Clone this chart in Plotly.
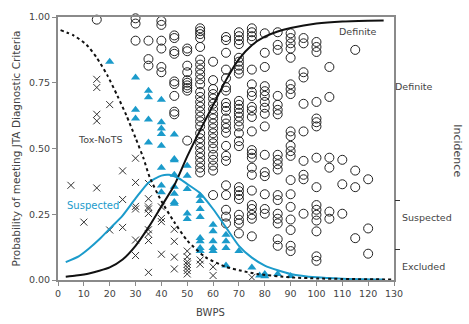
import plotly.graph_objects as go

# ---- data (BWPS score -> probability values) ----
definite_cols = {
    15: [0.99],
    30: [0.995, 0.975, 0.91],
    35: [0.91, 0.84, 0.815],
    40: [0.985, 0.97, 0.91, 0.88, 0.81, 0.79],
    45: [0.93, 0.92, 0.87, 0.86, 0.755, 0.745, 0.70, 0.64, 0.63],
    50: [0.88, 0.87, 0.815, 0.79, 0.76, 0.75, 0.74, 0.73, 0.72, 0.53],
    55: [0.957, 0.946, 0.935, 0.92, 0.886, 0.838, 0.819, 0.80, 0.782, 0.763, 0.744, 0.715,
         0.696, 0.677, 0.659, 0.64, 0.621, 0.603, 0.584, 0.558, 0.539, 0.521, 0.502, 0.483,
         0.465, 0.446, 0.427, 0.409],
    60: [0.83, 0.76, 0.726, 0.707, 0.69, 0.67, 0.65, 0.63, 0.614, 0.595, 0.577, 0.558, 0.539,
         0.52, 0.50, 0.476, 0.457, 0.435, 0.416, 0.323],
    65: [0.924, 0.912, 0.864, 0.80, 0.767, 0.733, 0.72, 0.673, 0.658, 0.643, 0.614, 0.595,
         0.578, 0.56, 0.51, 0.472, 0.453, 0.36, 0.323, 0.267, 0.241, 0.215],
    70: [0.942, 0.927, 0.912, 0.897, 0.845, 0.830, 0.815, 0.800, 0.785, 0.681, 0.666, 0.651,
         0.636, 0.621, 0.603, 0.584, 0.558, 0.528, 0.509, 0.353, 0.338, 0.323, 0.308, 0.248,
         0.229, 0.215, 0.177],
    75: [0.957, 0.942, 0.927, 0.912, 0.80, 0.744, 0.715, 0.70, 0.658, 0.644, 0.62, 0.565,
         0.494, 0.48, 0.465, 0.427, 0.40, 0.34, 0.285, 0.27, 0.248, 0.233, 0.166],
    80: [0.938, 0.864, 0.81, 0.737, 0.718, 0.70, 0.677, 0.655, 0.632, 0.584, 0.476, 0.41,
         0.395, 0.326, 0.27, 0.252],
    85: [0.942, 0.894, 0.875, 0.70, 0.666, 0.647, 0.63, 0.476, 0.457, 0.44, 0.42, 0.323,
         0.304, 0.252, 0.233, 0.215, 0.155, 0.13],
    90: [0.938, 0.92, 0.90, 0.88, 0.845, 0.744, 0.726, 0.707, 0.565, 0.547, 0.51, 0.49,
         0.472, 0.38, 0.326, 0.278, 0.23, 0.19, 0.13, 0.11],
    95: [0.92, 0.90, 0.79, 0.77, 0.67, 0.565, 0.453, 0.40, 0.383, 0.252],
    100: [0.905, 0.886, 0.867, 0.677, 0.614, 0.60, 0.584, 0.465, 0.353, 0.285, 0.267, 0.248,
          0.226, 0.185, 0.09, 0.073],
    105: [0.81, 0.696, 0.465, 0.427, 0.26, 0.233],
    110: [0.457, 0.364, 0.252],
    115: [0.875, 0.416, 0.353, 0.159],
    120: [0.383, 0.196, 0.10],
}

suspected_cols = {
    20: [0.83],
    30: [0.77, 0.647, 0.614],
    35: [0.72, 0.695, 0.61, 0.523],
    40: [0.685, 0.60, 0.576, 0.555, 0.51, 0.427, 0.359, 0.334],
    45: [0.553, 0.46, 0.455, 0.40, 0.355, 0.328, 0.297, 0.29],
    50: [0.434, 0.396, 0.346, 0.253, 0.232],
    55: [0.32, 0.30, 0.27, 0.24, 0.16, 0.147, 0.122, 0.11],
    60: [0.21, 0.185, 0.147, 0.122, 0.11],
    65: [0.172, 0.147, 0.122, 0.055],
    70: [0.11],
    75: [0.048],
    78: [0.017],
    80: [0.023, 0.014],
    85: [0.023],
    90: [0.015],
}

excluded_cols = {
    5: [0.36],
    10: [0.22],
    15: [0.763, 0.732, 0.63, 0.605, 0.35],
    20: [0.667, 0.19],
    25: [0.415, 0.306, 0.20],
    30: [0.463, 0.371, 0.28, 0.27, 0.152, 0.093],
    35: [0.367, 0.309, 0.278, 0.27, 0.253, 0.191, 0.175, 0.15, 0.029],
    40: [0.278, 0.234, 0.222, 0.098],
    45: [0.193, 0.147, 0.087, 0.042],
    50: [0.11, 0.088, 0.07, 0.06, 0.048, 0.036, 0.023],
    55: [0.076, 0.06],
    60: [0.05, 0.017],
    75: [0.01],
}

definite_curve_x = [3, 7, 12, 16, 20, 25, 30, 35, 40, 45, 50, 55, 60, 65, 70, 75, 80, 85, 90,
                    100, 110, 120, 126]
definite_curve_y = [0.012, 0.017, 0.025, 0.035, 0.048, 0.078, 0.13, 0.20, 0.28, 0.36, 0.47,
                    0.57, 0.665, 0.76, 0.84, 0.893, 0.925, 0.945, 0.958, 0.975, 0.983, 0.986,
                    0.987]

suspected_curve_x = [3, 8, 12, 16, 20, 25, 30, 35, 40, 43, 47, 50, 55, 60, 65, 70, 75, 80, 85,
                     90, 100, 110, 126]
suspected_curve_y = [0.068, 0.09, 0.12, 0.155, 0.195, 0.245, 0.31, 0.37, 0.397, 0.40, 0.385,
                     0.365, 0.33, 0.27, 0.2, 0.13, 0.085, 0.055, 0.037, 0.023, 0.01, 0.005,
                     0.002]

toxnots_curve_x = [1, 6, 11, 15, 19, 23, 26.5, 30, 33, 35.5, 40, 45, 50, 57, 65, 71, 77, 90,
                   100, 110, 129]
toxnots_curve_y = [0.95, 0.93, 0.895, 0.845, 0.78, 0.70, 0.625, 0.54, 0.465, 0.39, 0.30, 0.22,
                   0.15, 0.087, 0.05, 0.035, 0.023, 0.01, 0.006, 0.004, 0.002]

x_ticks = list(range(0, 131, 10))
y_ticks = [0.0, 0.25, 0.5, 0.75, 1.0]
y_tick_text = ["0.00", "0.25", "0.50", "0.75", "1.00"]
incidence_ticks = [0.1175, 0.304]

BLUE = "#1B9BCB"
GREY = "#8a8a8a"
TXT = "#444444"
FONT = "DejaVu Sans"


def flatten(cols):
    xs, ys = [], []
    for k, vals in cols.items():
        for v in vals:
            xs.append(k)
            ys.append(v)
    return xs, ys


fig = go.Figure()

dx, dy = flatten(definite_cols)
fig.add_trace(go.Scatter(x=dx, y=dy, mode="markers", cliponaxis=False,
                         marker=dict(symbol="circle-open", size=9, color="#222222",
                                     line=dict(width=1, color="#222222"))))

ex, ey = flatten(excluded_cols)
fig.add_trace(go.Scatter(x=ex, y=ey, mode="markers",
                         marker=dict(symbol="x-thin-open", size=7, color="#333333",
                                     line=dict(width=1, color="#333333"))))

sx, sy = flatten(suspected_cols)
fig.add_trace(go.Scatter(x=sx, y=sy, mode="markers",
                         marker=dict(symbol="triangle-up", size=8, color=BLUE)))

fig.add_trace(go.Scatter(x=definite_curve_x, y=definite_curve_y, mode="lines",
                         line=dict(color="#111111", width=2, shape="spline", smoothing=0.6)))
fig.add_trace(go.Scatter(x=suspected_curve_x, y=suspected_curve_y, mode="lines",
                         line=dict(color=BLUE, width=2, shape="spline", smoothing=0.6)))
fig.add_trace(go.Scatter(x=toxnots_curve_x, y=toxnots_curve_y, mode="lines",
                         line=dict(color="#111111", width=2, dash="dot", shape="spline",
                                   smoothing=0.6)))

# right-hand "Incidence" axis ticks
fig.add_trace(go.Scatter(x=[None], y=[None], yaxis="y2", showlegend=False))

fig.update_layout(
    width=469, height=324,
    margin=dict(l=58, r=75, t=11, b=44),
    paper_bgcolor="white", plot_bgcolor="white",
    showlegend=False,
    font=dict(family=FONT, size=9.5, color=TXT),
    xaxis=dict(range=[0, 130], tickvals=x_ticks, showgrid=False, zeroline=False,
               showline=True, linecolor=GREY, linewidth=2, mirror=True,
               ticks="outside", ticklen=4, tickcolor=GREY,
               tickfont=dict(size=9.5, color=TXT)),
    yaxis=dict(range=[0, 1], tickvals=y_ticks, ticktext=y_tick_text, showgrid=False,
               zeroline=False, showline=True, linecolor=GREY, linewidth=2, mirror=True,
               ticks="outside", ticklen=4, tickcolor=GREY,
               tickfont=dict(size=9.5, color=TXT),
               title=dict(text="Probability of meeting JTA Diagnostic Criteria",
                          font=dict(size=10.5, color=TXT), standoff=6)),
    yaxis2=dict(range=[0, 1], overlaying="y", side="right", tickvals=incidence_ticks,
                ticktext=["", ""], ticks="outside", ticklen=5, tickcolor="#333333",
                showgrid=False, zeroline=False, showline=False),
)

ann = [
    dict(text="Definite", x=116, y=0.946, xref="x", yref="y"),
    dict(text="Tox-NoTS", x=16.5, y=0.535, xref="x", yref="y"),
    dict(text="Suspected", x=13.4, y=0.282, xref="x", yref="y", font=dict(color=BLUE, size=10)),
    dict(text="Definite", x=1.06, y=0.737, xref="paper", yref="y"),
    dict(text="Suspected", x=1.098, y=0.237, xref="paper", yref="y"),
    dict(text="Excluded", x=1.089, y=0.05, xref="paper", yref="y"),
    dict(text="Incidence", x=1.19, y=0.49, xref="paper", yref="y", textangle=90,
         font=dict(size=11, color=TXT)),
    dict(text="BWPS", x=0.455, y=-0.123, xref="paper", yref="paper", yanchor="middle",
         font=dict(size=10, color=TXT)),
]
for a in ann:
    a.setdefault("font", dict(size=9.5, color=TXT))
    a["showarrow"] = False
    a["xanchor"] = "center"
    fig.add_annotation(**a)

fig.write_html("out.html")
